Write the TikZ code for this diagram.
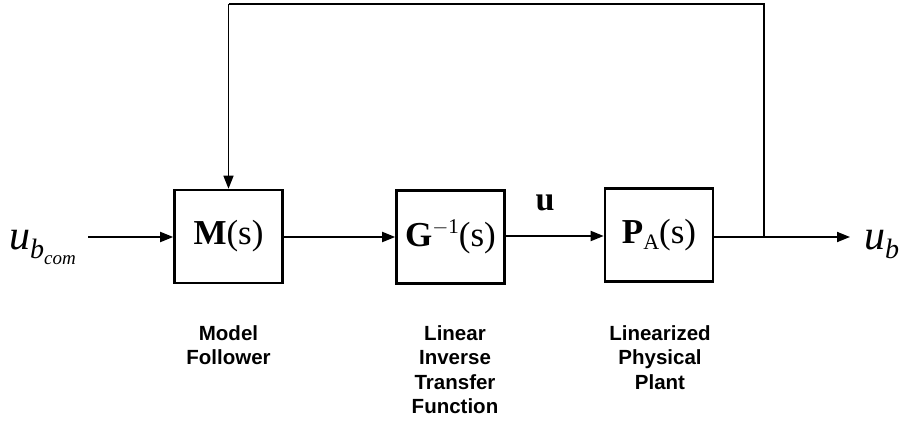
\documentclass[tikz,border=0pt]{standalone}
\usepackage{fontspec}
\setmainfont{Liberation Serif}
\newfontfamily\labelfont{Liberation Sans}
\usetikzlibrary{arrows.meta}
\begin{document}
\begin{tikzpicture}[x=1pt,y=-1pt,
  blk/.style={draw,line width=2.6pt,minimum width=108pt,minimum height=93pt,inner sep=0pt,
    font=\fontsize{35}{35}\selectfont},
  wire/.style={line width=1.8pt},
  arr/.style={wire,-{Triangle[length=13pt,width=10pt]}},
  captxt/.style={font=\labelfont\bfseries\fontsize{20.5}{24.6}\selectfont,align=center,anchor=north,inner sep=0pt}]
\useasboundingbox (0,0) rectangle (904,446);
\node[blk] (M) at (228.5,236.5) {\textbf{M}(s)};
\node[blk] (G) at (450.5,237) {\textbf{G}\raisebox{13pt}{\fontsize{21}{21}\selectfont $-$1}(s)};
\node[blk] (P) at (659,235) {\textbf{P}\raisebox{-6pt}{\fontsize{22}{22}\selectfont A}(s)};
\node[anchor=base east,inner sep=0pt,font=\fontsize{42}{42}\selectfont] (in) at (76,250)
  {\textit{u}\raisebox{-9pt}{\fontsize{28}{28}\selectfont\textit{b}\raisebox{-6pt}{\fontsize{19}{19}\selectfont\textit{com}}}};
\node[anchor=base west,inner sep=0pt,font=\fontsize{42}{42}\selectfont] (out) at (864,250)
  {\textit{u}\raisebox{-9pt}{\fontsize{28}{28}\selectfont\textit{b}}};
\node[inner sep=0pt,font=\fontsize{34}{34}\selectfont] (ulab) at (545,203) {\textbf{u}};
\coordinate (s) at (88,237);
\coordinate (j) at (764,237);
\coordinate (e) at (850,237);
\coordinate (t1) at (764,4);
\coordinate (t2) at (228.5,4);
\draw[arr] (s) -- (M.west |- s);
\draw[arr] (M.east |- 0,237) -- (G.west |- 0,237);
\draw[arr] (G.east |- 0,236) -- (P.west |- 0,236);
\draw[wire] (P.east |- j) -- (j);
\draw[arr] (j) -- (e);
\draw[line width=1.4pt] (j) -- (t1) -- (t2);
\draw[arr,line width=1.4pt] (t2) -- (M.north);
\node[captxt] (c1) at (228.5,325) {Model\\Follower};
\node[captxt] (c2) at (455,325) {Linear\\Inverse\\Transfer\\Function};
\node[captxt] (c3) at (660,325) {Linearized\\Physical\\Plant};
\end{tikzpicture}
\end{document}
